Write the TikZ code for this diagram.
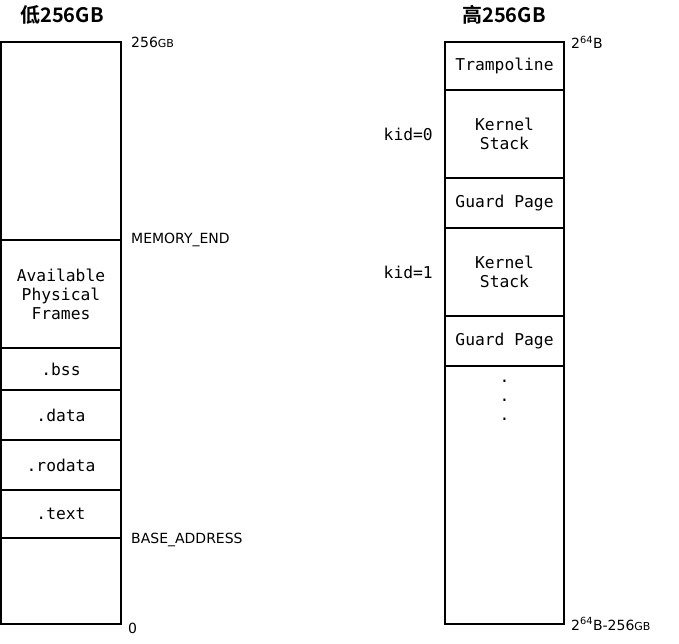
\documentclass[tikz,border=0pt]{standalone}
\usepackage{fontspec}
\setmainfont{DejaVu Sans}
\newfontfamily\monofont{DejaVu Sans Mono}
\newfontfamily\cjkfont{Noto Sans CJK SC}[BoldFont={Noto Sans CJK SC Bold}]
\usetikzlibrary{positioning}

\tikzset{
  seg/.style={draw, line width=1.6pt, minimum width=120pt, inner sep=0pt, outer sep=0pt,
    align=center, font=\monofont\fontsize{16.3}{19}\selectfont},
  addr/.style={anchor=west, inner sep=0pt, font=\fontsize{14}{16}\selectfont},
  kid/.style={anchor=east, inner sep=0pt, font=\monofont\fontsize{16.3}{19}\selectfont},
  title/.style={font=\cjkfont\bfseries\fontsize{20}{22}\selectfont}
}
\newcommand\gb{{\fontsize{11}{11}\selectfont GB}}

\begin{document}
\begin{tikzpicture}[x=1pt,y=-1pt]
    \useasboundingbox (0,0) rectangle (679,644);
    % low 256GB
    \node[title] (lowtitle) at (62,15) {低256GB};
    \node[seg, minimum height=198pt, anchor=north] (free) at (61,42) {};
    \node[seg, minimum height=108pt, below=0pt of free] (frames) {Available\\Physical\\Frames};
    \node[seg, minimum height=42pt, below=0pt of frames] (bss) {.bss};
    \node[seg, minimum height=50pt, below=0pt of bss] (data) {.data};
    \node[seg, minimum height=50pt, below=0pt of data] (rodata) {.rodata};
    \node[seg, minimum height=48pt, below=0pt of rodata] (text) {.text};
    \node[seg, minimum height=86pt, below=0pt of text] (lowest) {};
    \node[addr] (top) at ([xshift=10pt]free.north east) {256\gb};
    \node[addr] (memend) at ([xshift=10pt]free.south east) {MEMORY\_END};
    \node[addr] (base) at ([xshift=10pt,yshift=-2pt]text.south east) {BASE\_ADDRESS};
    \node[addr] (zero) at ([xshift=7pt,yshift=-4pt]lowest.south east) {0};
    % high 256GB
    \node[title] (hightitle) at (504,15) {高256GB};
    \node[seg, minimum width=119pt, minimum height=48pt, anchor=north] (tramp) at (504.5,42) {Trampoline};
    \node[seg, minimum width=119pt, minimum height=88pt, below=0pt of tramp] (stack0) {Kernel\\Stack};
    \node[seg, minimum width=119pt, minimum height=50pt, below=0pt of stack0] (guard0) {Guard Page};
    \node[seg, minimum width=119pt, minimum height=88pt, below=0pt of guard0] (stack1) {Kernel\\Stack};
    \node[seg, minimum width=119pt, minimum height=50pt, below=0pt of stack1] (guard1) {Guard Page};
    \node[seg, minimum width=119pt, minimum height=258pt, below=0pt of guard1] (rest) {};
    \node[seg, draw=none, below=14pt of guard1.south] (dots) {.\\.\\.};
    \node[kid] (kid0) at ([xshift=-12pt]stack0.west) {kid=0};
    \node[kid] (kid1) at ([xshift=-12pt]stack1.west) {kid=1};
    \node[addr] (toph) at ([xshift=7pt]tramp.north east) {2\textsuperscript{64}B};
    \node[addr] (both) at ([xshift=7pt]rest.south east) {2\textsuperscript{64}B-256\gb};
\end{tikzpicture}
\end{document}
